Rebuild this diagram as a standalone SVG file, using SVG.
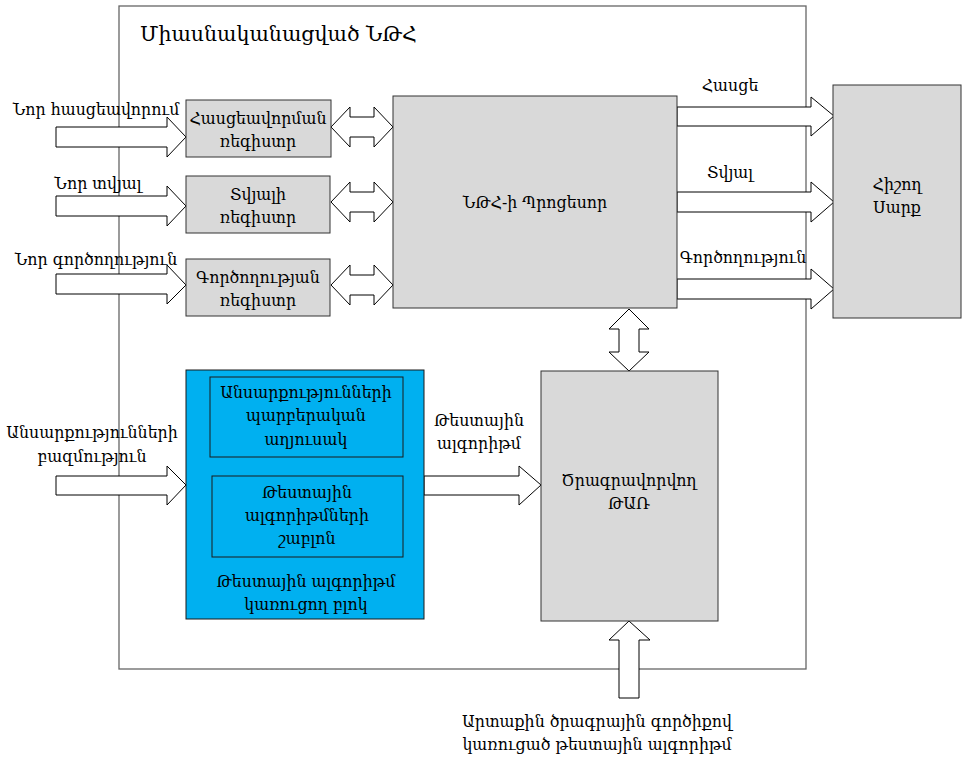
<svg xmlns="http://www.w3.org/2000/svg" width="963" height="757" viewBox="0 0 963 757">
<style>
text{font-family:"DejaVu Serif","Noto Sans",serif;font-size:15.8px;fill:#000;text-anchor:middle}
.t{text-anchor:start;font-size:20.5px}
.box{fill:#d9d9d9;stroke:#333;stroke-width:1}
.blue{fill:#00b0f0;stroke:#1a1a1a;stroke-width:1}
.arr{fill:#fff;stroke:#000;stroke-width:1;stroke-linejoin:miter}
</style>
<rect width="963" height="757" fill="#fff"/>
<g id="frame">
<rect x="119" y="6" width="687" height="663" fill="none" stroke="#666" stroke-width="1.3"/>
<text class="t" x="140" y="41">Միասնականացված ՆԹՀ</text>
</g>
<g id="connectors">
<polygon class="arr" points="56,127 167,127 167,117 186,137 167,157 167,147 56,147"/>
<polygon class="arr" points="56,196 167,196 167,186 186,206 167,226 167,216 56,216"/>
<polygon class="arr" points="56,274 167,274 167,265 186,285 167,304 167,294 56,294"/>
<polygon class="arr" points="56,476 167,476 167,466 186,485 167,505 167,495 56,495"/>
<polygon class="arr" points="424,476 519,476 519,466 541,485 519,505 519,495 424,495"/>
<polygon class="arr" points="331,127 350,107 350,117 374,117 374,107 393,127 374,147 374,137 350,137 350,147"/>
<polygon class="arr" points="331,202 350,182 350,192 374,192 374,182 393,202 374,222 374,212 350,212 350,222"/>
<polygon class="arr" points="331,285 350,265 350,275 374,275 374,265 393,285 374,305 374,295 350,295 350,305"/>
<polygon class="arr" points="677,107 811,107 811,97 834,116 811,136 811,126 677,126"/>
<polygon class="arr" points="677,192 811,192 811,182 834,202 811,222 811,212 677,212"/>
<polygon class="arr" points="677,279 811,279 811,269 834,289 811,309 811,299 677,299"/>
<polygon class="arr" points="629,309 649,329 639,329 639,352 649,352 629,371 609,352 619,352 619,329 609,329"/>
<polygon class="arr" points="629,621 650,640 639,640 639,698 619,698 619,640 609,640"/>
<text x="96" y="115">Նոր հասցեավորում</text>
<text x="98" y="189">Նոր տվյալ</text>
<text x="96" y="265">Նոր գործողություն</text>
<text x="92" y="438">Անսարքությունների</text>
<text x="92" y="462">բազմություն</text>
<text x="479" y="426">Թեստային</text>
<text x="479" y="449">ալգորիթմ</text>
<text x="730" y="91">Հասցե</text>
<text x="730" y="178">Տվյալ</text>
<text x="743" y="263">Գործողություն</text>
<text x="597" y="727">Արտաքին ծրագրային գործիքով</text>
<text x="597" y="750">կառուցած թեստային ալգորիթմ</text>
</g>
<g id="reg1">
<rect class="box" x="186" y="100" width="145" height="57"/>
<text x="258" y="124">Հասցեավորման</text>
<text x="258" y="147">ռեգիստր</text>
</g>
<g id="reg2">
<rect class="box" x="186" y="176" width="144" height="57"/>
<text x="258" y="200">Տվյալի</text>
<text x="258" y="223">ռեգիստր</text>
</g>
<g id="reg3">
<rect class="box" x="186" y="259" width="144" height="57"/>
<text x="258" y="283">Գործողության</text>
<text x="258" y="306">ռեգիստր</text>
</g>
<g id="processor">
<rect class="box" x="393" y="96" width="284" height="212"/>
<text x="535" y="208">ՆԹՀ-ի Պրոցեսոր</text>
</g>
<g id="memory">
<rect class="box" x="833" y="85" width="128" height="233"/>
<text x="897" y="190">Հիշող</text>
<text x="897" y="213">Սարք</text>
</g>
<g id="thar">
<rect class="box" x="541" y="371" width="177" height="250"/>
<text x="629" y="486">Ծրագրավորվող</text>
<text x="629" y="509">ԹԱՌ</text>
</g>
<g id="builder">
<rect class="blue" x="186" y="370" width="238" height="249"/>
<text x="306" y="587">Թեստային ալգորիթմ</text>
<text x="306" y="610">կառուցող բլոկ</text>
</g>
<g id="faults">
<rect class="blue" x="210" y="377" width="193" height="80"/>
<text x="306" y="398">Անսարքությունների</text>
<text x="306" y="421">պարբերական</text>
<text x="306" y="445">աղյուսակ</text>
</g>
<g id="template">
<rect class="blue" x="212" y="476" width="191" height="81"/>
<text x="307" y="498">Թեստային</text>
<text x="307" y="521">ալգորիթմների</text>
<text x="307" y="544">շաբլոն</text>
</g>
</svg>
